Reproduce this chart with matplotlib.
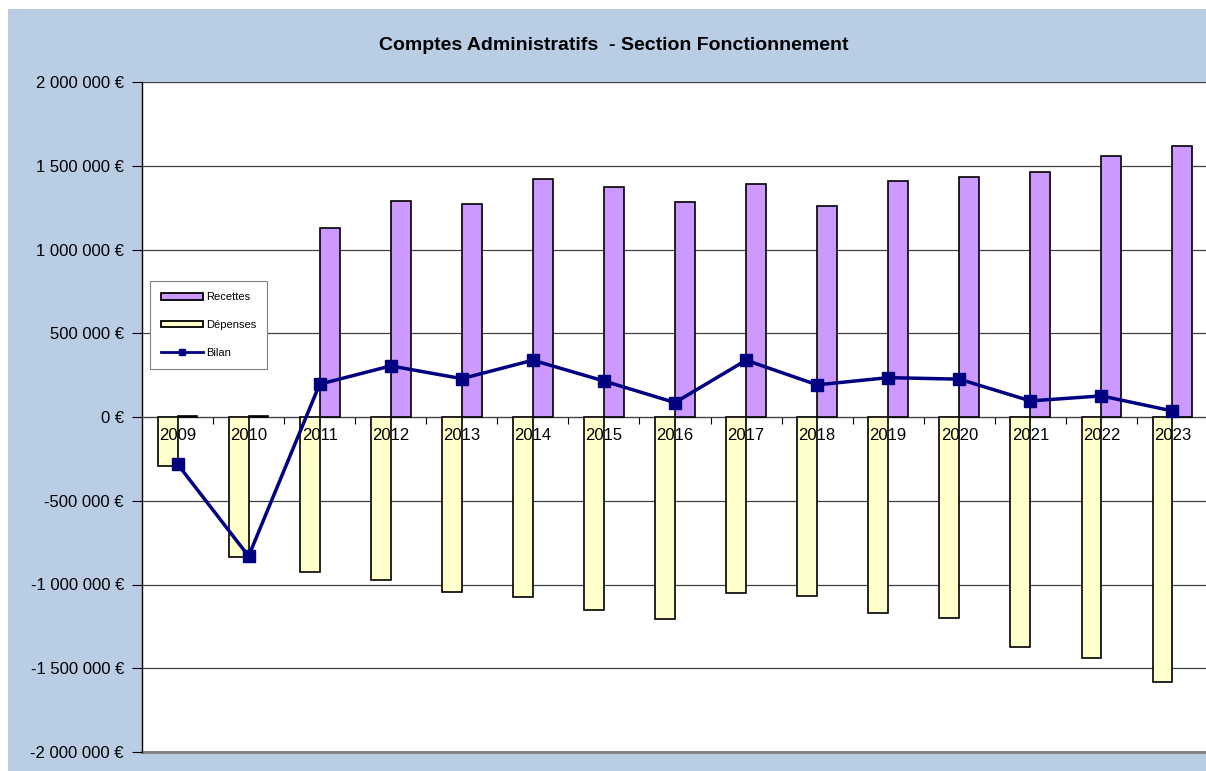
import matplotlib.pyplot as plt
import matplotlib.patches as mpatches
from matplotlib.lines import Line2D
import numpy as np

plt.rcParams['font.family'] = ['Liberation Sans', 'DejaVu Sans']

# data
years = ["2009", "2010", "2011", "2012", "2013", "2014", "2015", "2016",
         "2017", "2018", "2019", "2020", "2021", "2022", "2023"]
recettes = [5000, 4000, 1130000, 1287000, 1271000, 1419000, 1373000, 1281000,
            1391000, 1257000, 1407000, 1433000, 1463000, 1557000, 1619000]
depenses = [-291000, -835000, -928000, -975000, -1043000, -1075000, -1152000, -1204000,
            -1049000, -1067000, -1168000, -1202000, -1374000, -1436000, -1580000]
bilan = [-281000, -831000, 196000, 305000, 229000, 339000, 215000, 86000,
         339000, 192000, 235000, 226000, 96000, 126000, 36000]

bg = '#B9CDE5'
c_rec = '#CC99FF'
c_dep = '#FFFFCC'
c_bil = '#000080'

fig = plt.figure(figsize=(12.06, 7.71), dpi=100)
fig.patches.append(mpatches.Rectangle((8 / 1206, 0), 1, 1 - 9 / 771,
                                      transform=fig.transFigure, facecolor=bg,
                                      edgecolor='none', zorder=-10))

ax = fig.add_axes([142 / 1206, 1 - 752 / 771, 1066 / 1206, 670 / 771])
ax.set_facecolor('white')

x = np.arange(len(years))
w = 0.28
ax.bar(x - w / 2, depenses, w, color=c_dep, edgecolor='black', linewidth=1.2, zorder=3)
ax.bar(x + w / 2, recettes, w, color=c_rec, edgecolor='black', linewidth=1.2, zorder=3)
ax.plot(x, bilan, color=c_bil, linewidth=2.5, marker='s', markersize=8, zorder=5)

ax.set_xlim(-0.5, 14.5)
ax.set_ylim(-2000000, 2000000)
ax.set_yticks(np.arange(-2000000, 2000001, 500000))
ax.set_yticklabels(['{:,} €'.format(int(v)).replace(',', ' ') for v in ax.get_yticks()],
                   fontsize=12)
ax.yaxis.grid(True, color='#404040', linewidth=0.9, zorder=0)
ax.tick_params(axis='y', direction='out', length=7, width=0.8, pad=6)
ax.axhline(-2000000, color='#808080', linewidth=2, clip_on=False, zorder=1)

ax.spines['top'].set_visible(False)
ax.spines['right'].set_visible(False)
ax.spines['bottom'].set_position(('data', 0))
ax.spines['bottom'].set_color('#404040')
ax.spines['left'].set_linewidth(1.0)

ax.set_xticks(x + 0.5)
ax.set_xticklabels([])
ax.tick_params(axis='x', direction='out', length=5, width=0.8)

# year labels sit on top of the bars, just under the zero line
for i, yr in enumerate(years):
    ax.annotate(yr, (i, 0), xytext=(0, -13), textcoords='offset points',
                ha='center', va='center', fontsize=12, zorder=6)

handles = [mpatches.Patch(facecolor=c_rec, edgecolor='black', linewidth=1.3),
           mpatches.Patch(facecolor=c_dep, edgecolor='black', linewidth=1.3),
           Line2D([], [], color=c_bil, linewidth=2, marker='s', markersize=5)]
leg = ax.legend(handles, ['Recettes', 'Dépenses', 'Bilan'],
                loc='upper left', bbox_to_anchor=(0.0075, 0.703), borderaxespad=0,
                fontsize=8, labelspacing=1.6, handlelength=3.8, handleheight=0.55,
                handletextpad=0.25, borderpad=1.0, fancybox=False, framealpha=1,
                edgecolor='#808080')
leg.get_frame().set_linewidth(0.8)
leg.set_zorder(10)
leg._legend_box.align = 'left'

fig.text(614 / 1206, 1 - 45 / 771, 'Comptes Administratifs  - Section Fonctionnement',
         ha='center', va='center', fontsize=14, fontweight='bold')

fig.savefig('out.png', dpi=100)
